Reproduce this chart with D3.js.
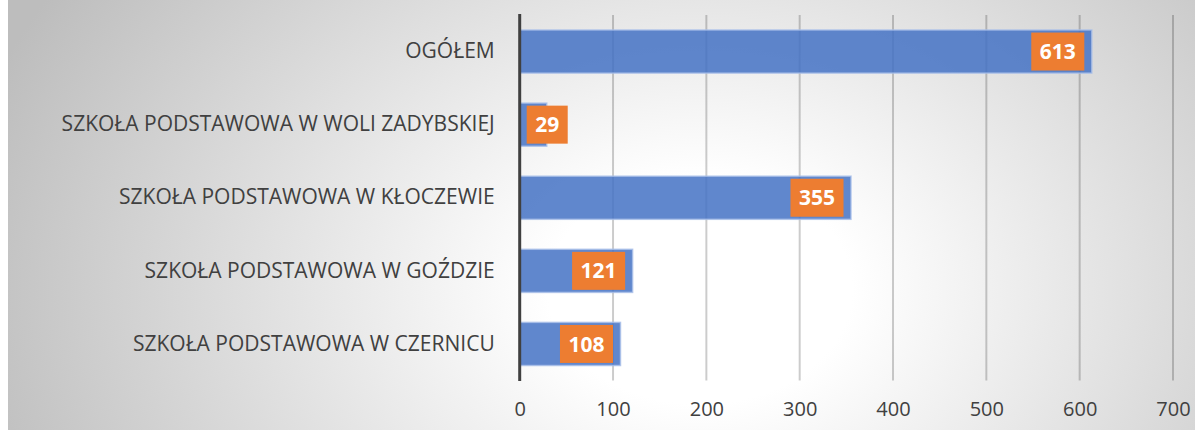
<!DOCTYPE html>
<html>
<head>
<meta charset="utf-8">
<script src="https://cdn.jsdelivr.net/npm/d3@7"></script>
<style>
  html, body { margin: 0; padding: 0; background: #fff; }
  svg { display: block; }
</style>
</head>
<body>
<div class="chart"></div>
<script>
var categories = [
    "OGÓŁEM",
    "SZKOŁA PODSTAWOWA W WOLI ZADYBSKIEJ",
    "SZKOŁA PODSTAWOWA W KŁOCZEWIE",
    "SZKOŁA PODSTAWOWA W GOŹDZIE",
    "SZKOŁA PODSTAWOWA W CZERNICU"
];
var values = [613, 29, 355, 121, 108];
var xTicks = [0, 100, 200, 300, 400, 500, 600, 700];

var W = 1195, H = 430;
var margin = {top: 15, right: 22, bottom: 50, left: 519.7};

var svg = d3.select("div.chart").append("svg")
    .attr("width", W)
    .attr("height", H);

var defs = svg.append("defs");
var grad = defs.append("radialGradient")
    .attr("id", "bg")
    .attr("gradientUnits", "userSpaceOnUse")
    .attr("cx", 700).attr("cy", 290).attr("r", 760)
    .attr("gradientTransform", "translate(700,290) scale(1,0.75) translate(-700,-290)");
grad.append("stop").attr("offset", "0").attr("stop-color", "#ffffff");
grad.append("stop").attr("offset", "0.2").attr("stop-color", "#ffffff");
grad.append("stop").attr("offset", "1").attr("stop-color", "#bdbdbd");

svg.append("rect")
    .attr("x", 8).attr("y", 0)
    .attr("width", W - 8).attr("height", H)
    .attr("fill", "url(#bg)");

var x = d3.scaleLinear()
    .domain([0, 700])
    .range([margin.left, margin.left + 653.3]);

var y = d3.scaleBand()
    .domain(categories)
    .range([margin.top, 380.5])
    .paddingInner(0.41)
    .paddingOuter(0.205);

// gridlines
svg.append("g")
    .selectAll("line")
    .data(xTicks.slice(1))
    .enter().append("line")
    .attr("x1", function (d) { return x(d); })
    .attr("x2", function (d) { return x(d); })
    .attr("y1", margin.top)
    .attr("y2", 380.5)
    .attr("stroke", "#000")
    .attr("stroke-opacity", 0.2)
    .attr("stroke-width", 2);

// bars
svg.append("g")
    .selectAll("rect")
    .data(values)
    .enter().append("rect")
    .attr("x", x(0))
    .attr("y", function (d, i) { return y(categories[i]); })
    .attr("width", function (d) { return x(d) - x(0); })
    .attr("height", y.bandwidth())
    .attr("fill", "#4472C4")
    .attr("fill-opacity", 0.85)
    .attr("stroke", "#a9bfe8")
    .attr("stroke-opacity", 0.8)
    .attr("stroke-width", 1.5);

// zero axis
svg.append("line")
    .attr("x1", x(0)).attr("x2", x(0))
    .attr("y1", margin.top - 1).attr("y2", 381)
    .attr("stroke", "#404040")
    .attr("stroke-width", 3);

// category labels
var xAxis = d3.axisBottom(x).tickValues(xTicks).tickSize(0).tickPadding(0);
var yAxis = d3.axisLeft(y).tickSize(0).tickPadding(25);

var gy = svg.append("g")
    .attr("transform", "translate(" + x(0) + ",0)")
    .call(yAxis);
gy.select(".domain").remove();
gy.selectAll("text")
    .attr("font-family", "'Open Sans', sans-serif")
    .attr("font-size", "21px")
    .attr("fill", "#404040");

var gx = svg.append("g")
    .attr("transform", "translate(0,398)")
    .call(xAxis);
gx.select(".domain").remove();
gx.selectAll("text")
    .attr("font-family", "'Open Sans', sans-serif")
    .attr("font-size", "20px")
    .attr("fill", "#404040")
    .attr("dy", "0.9em");

// data labels
var lab = svg.append("g").selectAll("g")
    .data(values)
    .enter().append("g");

lab.each(function (d, i) {
    var g = d3.select(this);
    var cy = y(categories[i]) + y.bandwidth() / 2;
    var t = g.append("text")
        .attr("font-family", "'Open Sans', sans-serif")
        .attr("font-weight", "bold")
        .attr("font-size", "21px")
        .attr("fill", "#fff")
        .attr("text-anchor", "middle")
        .attr("dy", "0.36em")
        .text(d);
    var tw = t.node().getComputedTextLength();
    var bw = tw + 17, bh = 38;
    var right = x(d) - 7.5;
    var left = right - bw;
    if (left < x(0) + 7) { left = x(0) + 7; right = left + bw; }
    g.insert("rect", "text")
        .attr("x", left).attr("y", cy - bh / 2)
        .attr("width", bw).attr("height", bh)
        .attr("fill", "#ED7D31");
    t.attr("x", (left + right) / 2).attr("y", cy);
});
</script>
</body>
</html>
